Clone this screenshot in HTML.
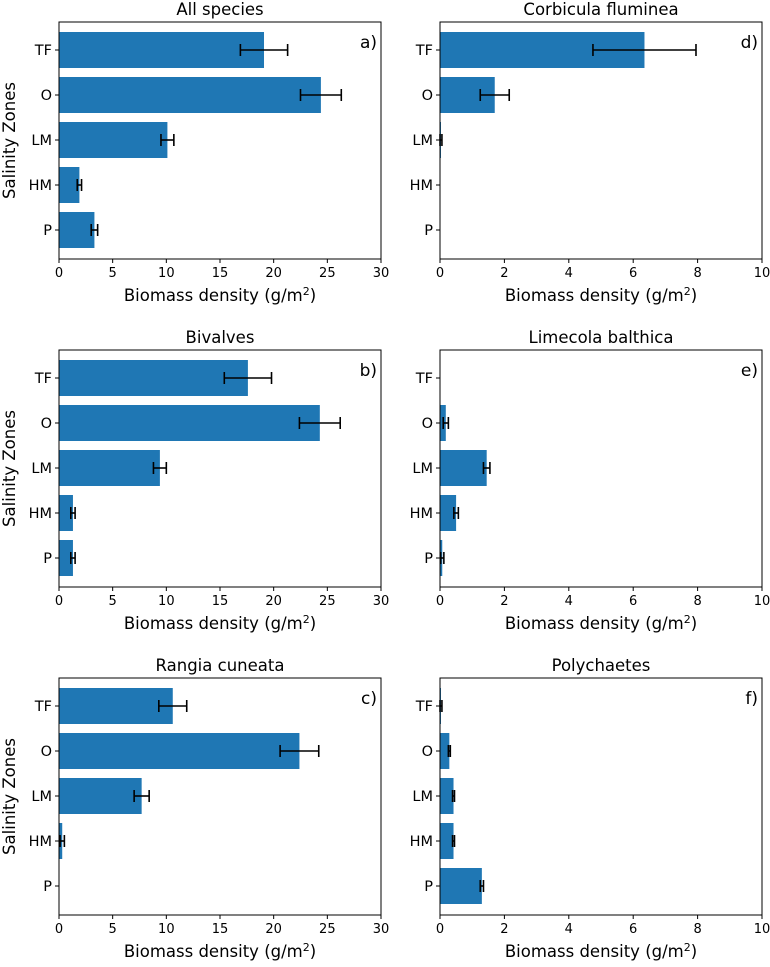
<!DOCTYPE html>
<html><head><meta charset="utf-8"><style>
body{margin:0;background:#fff;}
svg{display:block;font-family:"DejaVu Sans","Liberation Sans",sans-serif;}
</style></head><body>
<svg id="fig" width="770" height="967" viewBox="0 0 770 967" xmlns="http://www.w3.org/2000/svg"></svg>
<script>
const categories = ["TF","O","LM","HM","P"];
const titles = ["All species","Bivalves","Rangia cuneata","Corbicula fluminea","Limecola balthica","Polychaetes"];
const letters = ["a)","b)","c)","d)","e)","f)"];
const valsA = [19.1,24.4,10.1,1.9,3.3];
const errA = [2.2,1.9,0.6,0.2,0.3];
const valsB = [17.6,24.3,9.4,1.3,1.3];
const errB = [2.2,1.9,0.6,0.2,0.2];
const valsC = [10.6,22.4,7.7,0.3,0];
const errC = [1.3,1.8,0.7,0.2,0];
const valsD = [6.35,1.7,0.03,0,0];
const errD = [1.6,0.45,0.03,0,0];
const valsE = [0,0.18,1.45,0.5,0.07];
const errE = [0,0.08,0.1,0.07,0.05];
const valsF = [0.03,0.29,0.42,0.42,1.3];
const errF = [0.03,0.03,0.03,0.03,0.05];
const ticksLeft = [0,5,10,15,20,25,30];
const ticksRight = [0,2,4,6,8,10];

const NS="http://www.w3.org/2000/svg";
const svg=document.getElementById('fig');
function mk(tag,attrs,parent){const e=document.createElementNS(NS,tag);for(const k in attrs)e.setAttribute(k,attrs[k]);(parent||svg).appendChild(e);return e;}

const panels=[
 {v:valsA,e:errA,col:0,row:0,t:ticksLeft,max:30},
 {v:valsB,e:errB,col:0,row:1,t:ticksLeft,max:30},
 {v:valsC,e:errC,col:0,row:2,t:ticksLeft,max:30},
 {v:valsD,e:errD,col:1,row:0,t:ticksRight,max:10},
 {v:valsE,e:errE,col:1,row:1,t:ticksRight,max:10},
 {v:valsF,e:errF,col:1,row:2,t:ticksRight,max:10}];

panels.forEach((p,i)=>{
 const L=p.col?440:59, R=p.col?762:381, T=22+328*p.row, B=T+237;
 const g=mk('g',{});
 
 
 const xs=v=>L+(v/p.max)*(R-L);
 const yc=k=>T+28+45*k;
 p.v.forEach((v,k)=>{
  if(v>0){const r=mk('rect',{x:L,y:yc(k)-18,width:xs(v)-L,height:36,fill:'#1f77b4'},g);
   
   }
  const er=p.e[k];
  if(er>0){const x1=xs(v-er),x2=xs(v+er),y=yc(k);
   const eg=mk('g',{stroke:'#000','stroke-width':1.6},g);
   
   
   mk('line',{x1:x1,x2:x2,y1:y,y2:y},eg);
   mk('line',{x1:x1,x2:x1,y1:y-6,y2:y+6},eg);
   mk('line',{x1:x2,x2:x2,y1:y-6,y2:y+6},eg);}
  mk('line',{x1:L-4,x2:L,y1:yc(k),y2:yc(k),stroke:'#000','stroke-width':1},g);
  const tl=mk('text',{x:L-7,y:yc(k)+5,'text-anchor':'end','font-size':14.5},g);tl.textContent=categories[k];
  
 });
 p.t.forEach(t=>{const x=xs(t);
  mk('line',{x1:x,x2:x,y1:B,y2:B+4,stroke:'#000'},g);
  const tx=mk('text',{x:x,y:B+18,'text-anchor':'middle','font-size':13},g);tx.textContent=t;
  });
 const fr=mk('rect',{x:L,y:T,width:R-L,height:B-T,fill:'none',stroke:'#000','stroke-width':1},g);
 
 const ti=mk('text',{x:(L+R)/2,y:T-7,'text-anchor':'middle','font-size':16.5},g);ti.textContent=titles[i];
 
 const le=mk('text',{x:R-4,y:T+26,'text-anchor':'end','font-size':17},g);le.textContent=letters[i];
 
 const xl=mk('text',{x:(L+R)/2,y:B+42,'text-anchor':'middle','font-size':16.5},g);
 xl.innerHTML='Biomass density (g/m<tspan dy="-6" font-size="11">2</tspan><tspan dy="6">)</tspan>';
 
 if(p.col===0){const yl=mk('text',{transform:`translate(15,${(T+B)/2}) rotate(-90)`,'text-anchor':'middle','font-size':16.5},g);
  yl.textContent='Salinity Zones';
  }
});
</script>
</body></html>
